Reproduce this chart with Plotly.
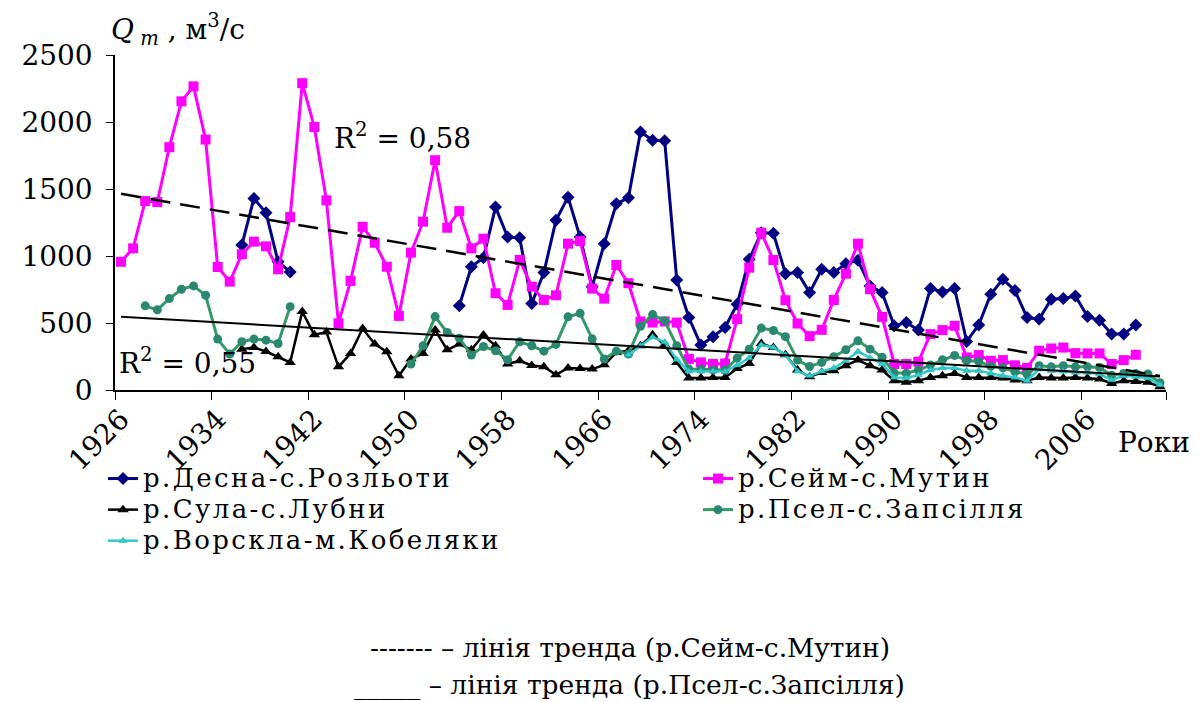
import plotly.graph_objects as go

# ---- data: mean annual discharge, m3/s ----
FIRST_YEAR = 1926
LAST_YEAR = 2012
years = list(range(FIRST_YEAR, LAST_YEAR + 1))

desna_start = 1936
desna_q = ([1082, 1430, 1322, 958, 881] + [None] * 13 +
           [628, 920, 987, 1365, 1141, 1137, 645, 876, 1266, 1439,
            1141, 770, 1092, 1389, 1434, 1926, 1864, 1861, 821, 541,
            335, 397, 466, 640, 975, 1174, 1169, 868, 876, 727,
            901, 876, 943, 968, 777, 727, 479, 503, 447, 757,
            732, 757, 362, 486, 715, 827, 742, 541, 529, 678,
            682, 702, 548, 521, 417, 417, 486])

seym_start = 1926
seym_q = [957, 1057, 1410, 1402, 1812, 2154, 2266, 1869, 918, 809,
          1013, 1107, 1072, 901, 1290, 2290, 1963, 1415, 497, 814,
          1218, 1099, 920, 553, 1025, 1256, 1715, 1211, 1335, 1057,
          1129, 722, 635, 970, 771, 672, 707, 1092, 1112, 757,
          682, 933, 797, 511, 503, 511, 503, 231, 206, 194,
          198, 529, 913, 1174, 970, 670, 496, 402, 449, 672,
          868, 1092, 752, 546, 194, 194, 211, 417, 447, 479,
          243, 261, 218, 223, 184, 165, 293, 310, 317, 275,
          273, 273, 194, 223, 263]

sula_start = 1936
sula_q = [305, 317, 287, 248, 206, 585, 412, 432, 173, 273,
          459, 343, 285, 106, 231, 273, 447, 300, 343, 300,
          410, 330, 194, 218, 183, 173, 114, 164, 161, 156,
          188, 280, 293, 330, 412, 337, 206, 89, 89, 94,
          94, 160, 198, 347, 317, 263, 149, 99, 131, 144,
          181, 223, 181, 149, 69, 57, 69, 94, 106, 124,
          94, 94, 94, 89, 74, 69, 94, 89, 89, 94,
          89, 82, 49, 69, 64, 57, 25]

psel_start = 1928
psel_q = ([628, 598, 682, 752, 777, 707, 380, 268, 360, 380,
           372, 347, 622] + [None] * 9 +
          [194, 330, 548, 429, 387, 261, 325, 293, 226, 360,
           330, 290, 340, 546, 572, 382, 231, 290, 268, 476,
           563, 516, 330, 156, 154, 150, 149, 238, 305, 462,
           444, 398, 223, 175, 206, 248, 300, 367, 305, 245,
           128, 125, 149, 186, 225, 258, 220, 213, 177, 166,
           135, 119, 181, 173, 181, 173, 173, 168, 110, 124,
           124, 119, 55])

vorskla_start = 1968
vorskla_q = [262, 330, 395, 358, 228, 140, 140, 140, 138, 185,
             238, 337, 317, 263, 140, 106, 139, 164, 218, 287,
             238, 194, 94, 89, 112, 149, 164, 164, 144, 144,
             124, 106, 94, 69, 156, 144, 139, 131, 131, 119,
             74, 106, 99, 89, 40]

# linear trend lines (end points)
trend_years = [1926, 2012]
seym_trend = [1464, 105]
psel_trend = [546, 100]
seym_r2 = "0,58"
psel_r2 = "0,55"

tick_years = list(range(1926, 2007, 8))
tick_labels = [str(y) for y in tick_years]
y_ticks = [0, 500, 1000, 1500, 2000, 2500]


def on_years(start, values):
    """Place a series on the full year grid, leaving gaps as None."""
    out = [None] * len(years)
    for i, v in enumerate(values):
        out[start - FIRST_YEAR + i] = v
    return out


FONT = "DejaVu Serif"
LEGEND_TEXT = '<span style="font-size:26px;letter-spacing:2.4px">{}</span>'

# (name, start year, values, line colour, line width, marker, legend box)
series = [
    ("р.Десна-с.Розльоти", desna_start, desna_q, "#000080", 3,
     dict(symbol="diamond", size=10, color="#000080"), "legend"),
    ("р.Сейм-с.Мутин", seym_start, seym_q, "#FF00FF", 3,
     dict(symbol="square", size=10, color="#FF00FF"), "legend2"),
    ("р.Сула-с.Лубни", sula_start, sula_q, "#000000", 2.5,
     dict(symbol="triangle-up", size=10, color="#000000"), "legend"),
    ("р.Псел-с.Запсілля", psel_start, psel_q, "#339966", 3,
     dict(symbol="circle", size=9, color="#2A8870"), "legend2"),
    ("р.Ворскла-м.Кобеляки", vorskla_start, vorskla_q, "#33CCCC", 2.5,
     dict(symbol="triangle-up", size=7, color="#33CCCC",
          line=dict(color="#1AA0A0", width=0.5)), "legend"),
]

fig = go.Figure()
for name, start, vals, color, width, marker, leg in series:
    fig.add_trace(go.Scatter(
        x=years, y=on_years(start, vals), name=LEGEND_TEXT.format(name),
        mode="lines+markers", connectgaps=False, legend=leg,
        line=dict(color=color, width=width), marker=marker,
    ))

fig.add_trace(go.Scatter(
    x=trend_years, y=seym_trend, mode="lines", showlegend=False,
    line=dict(color="black", width=2.5, dash="20px,10px"),
))
fig.add_trace(go.Scatter(
    x=trend_years, y=psel_trend, mode="lines", showlegend=False,
    line=dict(color="black", width=2),
))

legend_common = dict(
    orientation="v", y=-0.203, yanchor="top", xanchor="left",
    font=dict(family=FONT, size=21.6), bgcolor="rgba(0,0,0,0)",
    itemwidth=30, tracegroupgap=0, traceorder="normal",
)

fig.update_layout(
    width=1200, height=702,
    margin=dict(l=115, r=34, t=55, b=312),
    paper_bgcolor="white", plot_bgcolor="white",
    font=dict(family=FONT, color="black", size=28),
    showlegend=True,
    legend=dict(x=-0.0114, **legend_common),
    legend2=dict(x=0.5547, **legend_common),
    xaxis=dict(
        range=[FIRST_YEAR - 0.5, LAST_YEAR + 0.5],
        tickmode="array", tickvals=tick_years, ticktext=tick_labels,
        tickangle=-45, ticks="", showgrid=False, zeroline=False,
        showline=True, linecolor="black", linewidth=1.5,
        tickfont=dict(family=FONT, size=28),
        minor=dict(tickmode="array",
                   tickvals=[y - 0.5 for y in tick_years] + [LAST_YEAR + 0.5],
                   ticks="outside", ticklen=8, tickwidth=1.3,
                   tickcolor="black", showgrid=False),
    ),
    yaxis=dict(
        range=[0, 2500], tickmode="array", tickvals=y_ticks,
        ticks="outside", ticklen=7, tickwidth=1.3, tickcolor="black",
        ticklabelstandoff=8,
        showgrid=False, zeroline=False,
        showline=True, linecolor="black", linewidth=1.5,
        tickfont=dict(family=FONT, size=28),
    ),
)

annotations = [
    dict(text="<i>Q</i><sub><i> m</i></sub> , м<sup>3</sup>/с",
         xref="paper", yref="paper", x=-0.006, y=1.075,
         xanchor="left", yanchor="middle", showarrow=False,
         font=dict(family=FONT, size=28)),
    dict(text="R<sup>2</sup> = " + seym_r2, xref="x", yref="y",
         x=1943.5, y=1890, xanchor="left", yanchor="middle",
         showarrow=False, font=dict(family=FONT, size=28)),
    dict(text="R<sup>2</sup> = " + psel_r2, xref="x", yref="y",
         x=1925.7, y=215, xanchor="left", yanchor="middle",
         showarrow=False, font=dict(family=FONT, size=28)),
    dict(text="Роки", xref="paper", yref="paper", x=1.025, y=-0.158,
         xanchor="right", yanchor="middle", showarrow=False,
         font=dict(family=FONT, size=28)),
    dict(text="------- – лінія тренда (р.Сейм-с.Мутин)",
         xref="paper", yref="paper", x=0.49, y=-0.77,
         xanchor="center", yanchor="middle", showarrow=False,
         font=dict(family=FONT, size=26.5)),
    dict(text="_____ – лінія тренда (р.Псел-с.Запсілля)",
         xref="paper", yref="paper", x=0.49, y=-0.88,
         xanchor="center", yanchor="middle", showarrow=False,
         font=dict(family=FONT, size=26.5)),
]
fig.update_layout(annotations=annotations)

fig.write_html("out.html")
